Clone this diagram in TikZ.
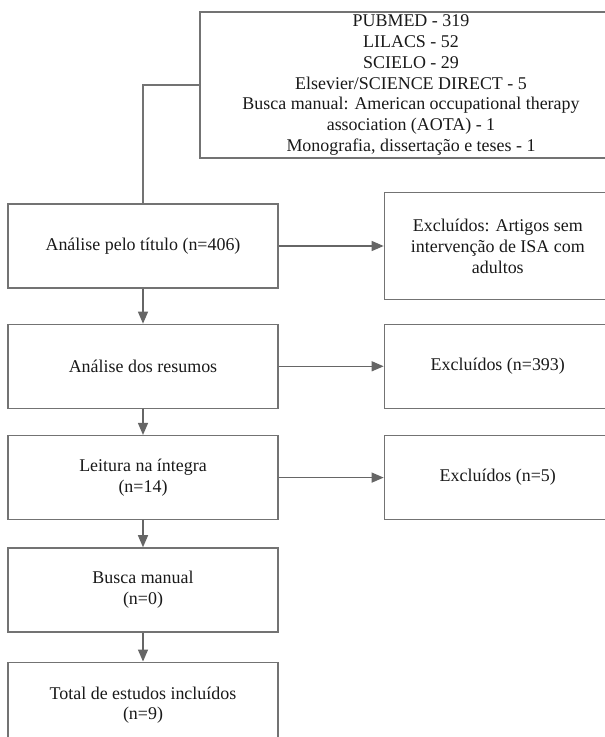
\documentclass[tikz,border=0pt]{standalone}
\usepackage{fontspec}
\setmainfont{Liberation Serif}
\usepackage{xcolor}
\usepackage{tikz}
\usetikzlibrary{arrows.meta,positioning}
\tikzset{
  etapabox/.style={rectangle, draw=black!55, fill=white, line width=1.3pt,
    minimum width=270bp, minimum height=84bp, align=center, text=black!90,
    font=\fontsize{18}{21}\selectfont, inner sep=4pt},
  excluidobox/.style={rectangle, draw=black!55, fill=white, line width=1.3pt,
    minimum width=227bp, minimum height=84bp, align=center, text=black!90,
    font=\fontsize{18}{21}\selectfont, inner sep=4pt},
  fontesbox/.style={rectangle, draw=black!55, fill=white, line width=1.3pt,
    minimum width=422bp, minimum height=146bp, align=center, text=black!90,
    font=\fontsize{18}{21}\selectfont, inner sep=2pt},
  fluxoarrow/.style={-{Triangle[length=12bp,width=10bp]}, draw=black!60, fill=black!60, line width=1.3pt},
  fluxoline/.style={draw=black!55, line width=1.3pt},
}

\begin{document}
\begin{tikzpicture}[x=1bp, y=-1bp]
  \useasboundingbox (0,0) rectangle (605,737);

  % Bases consultadas (top)
  \node[fontesbox] (fontes) at (411,85) {PUBMED - 319\\LILACS - 52\\SCIELO - 29\\
    Elsevier/SCIENCE DIRECT - 5\\Busca manual: American occupational therapy\\
    association (AOTA) - 1\\Monografia, dissertação e teses - 1};

  % Etapas (left column, top to bottom)
  \node[etapabox] (titulo) at (143,246) {Análise pelo título (n=406)};
  \node[etapabox, below=35bp of titulo] (resumos) {Análise dos resumos};
  \node[etapabox, below=26bp of resumos] (leitura) {Leitura na íntegra\\(n=14)};
  \node[etapabox, below=27bp of leitura] (busca) {Busca manual\\(n=0)};
  \node[etapabox, below=29bp of busca, minimum height=86bp] (total) {Total de estudos incluídos\\(n=9)};

  % Excluidos (right column)
  \node[excluidobox, right=105bp of titulo, minimum height=107bp] (excl1) {Excluídos: Artigos sem\\intervenção de ISA com\\adultos};
  \node[excluidobox, right=105bp of resumos] (excl2) {Excluídos (n=393)};
  \node[excluidobox, right=105bp of leitura] (excl3) {Excluídos (n=5)};

  % Arrows
  \draw[fluxoline] (fontes.west) -| (titulo.north);
  \draw[fluxoarrow] (titulo) -- (excl1);
  \draw[fluxoarrow] (resumos) -- (excl2);
  \draw[fluxoarrow] (leitura) -- (excl3);
  \draw[fluxoarrow] (titulo) -- (resumos);
  \draw[fluxoarrow] (resumos) -- (leitura);
  \draw[fluxoarrow] (leitura) -- (busca);
  \draw[fluxoarrow] (busca) -- (total);

\end{tikzpicture}
\end{document}
